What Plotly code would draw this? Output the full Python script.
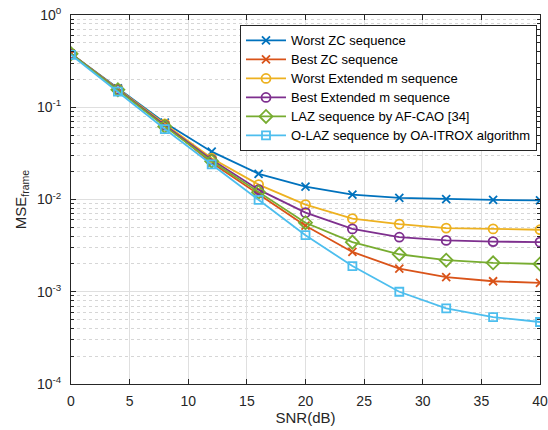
import plotly.graph_objects as go

snr = [0, 4, 8, 12, 16, 20, 24, 28, 32, 36, 40]

worst_zc = [0.38, 0.16, 0.068, 0.033, 0.019, 0.0138, 0.0113, 0.0104, 0.0101, 0.0099, 0.0098]
best_zc = [0.38, 0.157, 0.065, 0.025, 0.0115, 0.0052, 0.0027, 0.00178, 0.00144, 0.0013, 0.00125]
worst_em = [0.38, 0.157, 0.066, 0.028, 0.0145, 0.0088, 0.0062, 0.0054, 0.0049, 0.0048, 0.0047]
best_em = [0.38, 0.156, 0.064, 0.027, 0.0128, 0.0072, 0.0048, 0.0039, 0.0036, 0.0035, 0.00345]
laz = [0.38, 0.155, 0.062, 0.026, 0.012, 0.0056, 0.00345, 0.00255, 0.0022, 0.00206, 0.0020]
olaz = [0.37, 0.148, 0.058, 0.024, 0.0099, 0.0041, 0.0019, 0.001, 0.00066, 0.00053, 0.00047]

names = ["Worst ZC sequence", "Best ZC sequence", "Worst Extended m sequence",
         "Best Extended m sequence", "LAZ sequence by AF-CAO [34]",
         "O-LAZ sequence by OA-ITROX algorithm"]
series = [worst_zc, best_zc, worst_em, best_em, laz, olaz]
colors = ["#0072BD", "#D95319", "#EDB120", "#7E2F8E", "#77AC30", "#4DBEEE"]
symbols = ["x-thin-open", "x-thin-open", "circle-open", "circle-open", "diamond-open", "square-open"]
sizes = [8, 8, 9, 9, 10, 8]

fig = go.Figure()
for n, y, c, s, sz in zip(names, series, colors, symbols, sizes):
    fig.add_trace(go.Scatter(
        x=snr, y=y, name='<span style="font-size:13px">' + n + '</span>',
        mode="lines+markers",
        line=dict(color=c, width=1.8),
        marker=dict(symbol=s, size=sz, color=c, line=dict(color=c, width=1.8)),
    ))

ytickvals = [1e-4, 1e-3, 1e-2, 1e-1, 1]
yticktext = ["10<sup>-4</sup>", "10<sup>-3</sup>", "10<sup>-2</sup>", "10<sup>-1</sup>", "10<sup>0</sup>"]
minor_vals = [m * 10.0 ** e for e in range(-4, 0) for m in range(2, 10)]

fig.update_layout(
    width=548, height=430,
    margin=dict(l=71, r=8, t=15, b=46),
    paper_bgcolor="white", plot_bgcolor="white",
    font=dict(family="Liberation Sans, Arial, sans-serif", size=14, color="#262626"),
    showlegend=True,
    legend=dict(
        x=0.9936, y=0.973, xanchor="right", yanchor="top",
        bgcolor="white", bordercolor="#262626", borderwidth=1,
        font=dict(size=12, color="#000000"),
        tracegroupgap=0, itemwidth=40,
    ),
    xaxis=dict(
        range=[0, 40], tickvals=[0, 5, 10, 15, 20, 25, 30, 35, 40],
        automargin=False,
        showgrid=True, gridcolor="#dfdfdf", gridwidth=1,
        zeroline=False, showline=True, linecolor="#262626", linewidth=1,
        mirror="allticks", ticks="inside", ticklen=5, tickcolor="#262626",
        ticklabelstandoff=4,
        title=dict(text="SNR(dB)", standoff=4, font=dict(size=15)),
    ),
    yaxis=dict(
        type="log", range=[-4, 0],
        automargin=False,
        tickvals=ytickvals, ticktext=yticktext,
        showgrid=True, gridcolor="#dfdfdf", gridwidth=1,
        zeroline=False, showline=True, linecolor="#262626", linewidth=1,
        mirror="allticks", ticks="inside", ticklen=5, tickcolor="#262626",
        ticklabelstandoff=6,
        minor=dict(tickvals=minor_vals, ticks="inside", ticklen=3, tickcolor="#262626",
                   showgrid=True, gridcolor="#d6d6d6", griddash="dot", gridwidth=1),
        title=dict(text="MSE<sub>frame</sub>", standoff=6, font=dict(size=15)),
    ),
)

fig.write_html("out.html", config={"displayModeBar": False},
               post_script="document.body.style.margin='0';")
